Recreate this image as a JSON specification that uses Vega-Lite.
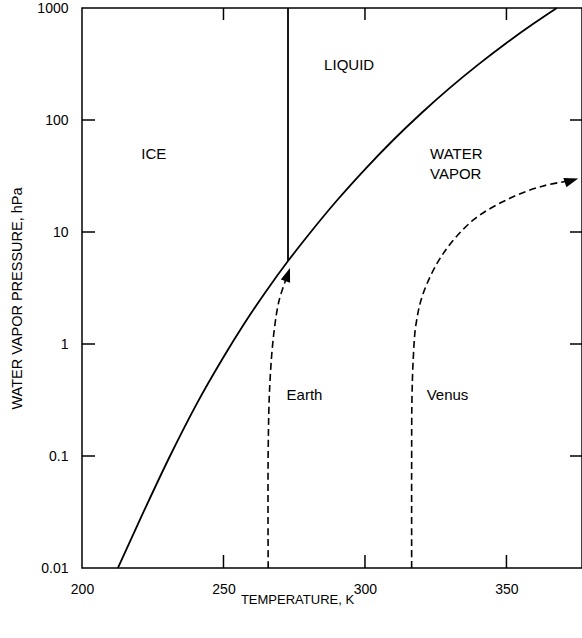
{
  "$schema": "https://vega.github.io/schema/vega-lite/v6.json",
  "width": 500,
  "height": 560,
  "autosize": {"type": "none"},
  "padding": {"left": 82, "top": 8, "right": 0, "bottom": 70},
  "background": "white",
  "config": {
    "view": {"stroke": "black", "strokeWidth": 1.5},
    "font": "Liberation Sans",
    "axis": {
      "domain": false,
      "ticks": false,
      "grid": false,
      "labelColor": "black",
      "titleColor": "black",
      "labelFont": "Liberation Sans",
      "titleFont": "Liberation Sans",
      "labelFontSize": 14,
      "labelFlush": false,
      "labelOverlap": false,
      "labelPadding": 14,
      "titleFontWeight": "normal"
    }
  },
  "datasets": {
    "lines": [
      {"i": 0, "T": 212.7, "p": 0.01},
      {"i": 1, "T": 221.9, "p": 0.0323},
      {"i": 2, "T": 231.1, "p": 0.1},
      {"i": 3, "T": 240.3, "p": 0.285},
      {"i": 4, "T": 249.5, "p": 0.727},
      {"i": 5, "T": 257.2, "p": 1.5},
      {"i": 6, "T": 265.0, "p": 2.94},
      {"i": 7, "T": 272.8, "p": 5.5},
      {"i": 8, "T": 280, "p": 9.4},
      {"i": 9, "T": 290, "p": 19.0},
      {"i": 10, "T": 300, "p": 36.3},
      {"i": 11, "T": 310, "p": 66.3},
      {"i": 12, "T": 320, "p": 115.5},
      {"i": 13, "T": 330, "p": 193.5},
      {"i": 14, "T": 340, "p": 312},
      {"i": 15, "T": 350, "p": 487},
      {"i": 16, "T": 360, "p": 737},
      {"i": 17, "T": 367.8, "p": 1000}
    ],
    "paths": [
      {"series": "Earth", "i": 0, "T": 265.8, "p": 0.01},
      {"series": "Earth", "i": 1, "T": 265.8, "p": 0.113},
      {"series": "Earth", "i": 2, "T": 266.4, "p": 0.449},
      {"series": "Earth", "i": 3, "T": 267.8, "p": 1.25},
      {"series": "Earth", "i": 4, "T": 269.7, "p": 2.47},
      {"series": "Earth", "i": 5, "T": 272.7, "p": 4.17},
      {"series": "Venus", "i": 0, "T": 316.5, "p": 0.01},
      {"series": "Venus", "i": 1, "T": 316.5, "p": 0.096},
      {"series": "Venus", "i": 2, "T": 316.6, "p": 0.316},
      {"series": "Venus", "i": 3, "T": 317.1, "p": 0.77},
      {"series": "Venus", "i": 4, "T": 318.0, "p": 1.48},
      {"series": "Venus", "i": 5, "T": 320.6, "p": 2.84},
      {"series": "Venus", "i": 6, "T": 327.7, "p": 6.45},
      {"series": "Venus", "i": 7, "T": 338.3, "p": 12.8},
      {"series": "Venus", "i": 8, "T": 351.2, "p": 20.0},
      {"series": "Venus", "i": 9, "T": 363.0, "p": 25.8},
      {"series": "Venus", "i": 10, "T": 373.0, "p": 28.8}
    ],
    "heads": [
      {"series": "Earth", "T": 272.7, "p": 4.17},
      {"series": "Venus", "T": 373.0, "p": 28.8}
    ],
    "centerText": [
      {"label": "ICE", "T": 225.4, "p": 49.2},
      {"label": "LIQUID", "T": 294.4, "p": 310}
    ],
    "leftText": [
      {"label": "WATER", "T": 323.0, "p": 49.2},
      {"label": "VAPOR", "T": 323.0, "p": 32.8},
      {"label": "Earth", "T": 272.3, "p": 0.347},
      {"label": "Venus", "T": 321.8, "p": 0.347}
    ],
    "melt": [
      {"T": 272.8, "p": 5.5},
      {"T": 272.8, "p": 1000}
    ],
    "ticks": [
      {"k": "b250", "T": 250, "p": 0.01}, {"k": "b250", "T": 250, "p": 0.01306},
      {"k": "b300", "T": 300, "p": 0.01}, {"k": "b300", "T": 300, "p": 0.01306},
      {"k": "b350", "T": 350, "p": 0.01}, {"k": "b350", "T": 350, "p": 0.01306},
      {"k": "t250", "T": 250, "p": 1000}, {"k": "t250", "T": 250, "p": 781.6},
      {"k": "t300", "T": 300, "p": 1000}, {"k": "t300", "T": 300, "p": 781.6},
      {"k": "t350", "T": 350, "p": 1000}, {"k": "t350", "T": 350, "p": 781.6},
      {"k": "l0.1", "T": 200, "p": 0.1}, {"k": "l0.1", "T": 204.6, "p": 0.1},
      {"k": "l1", "T": 200, "p": 1}, {"k": "l1", "T": 204.6, "p": 1},
      {"k": "l10", "T": 200, "p": 10}, {"k": "l10", "T": 204.6, "p": 10},
      {"k": "l100", "T": 200, "p": 100}, {"k": "l100", "T": 204.6, "p": 100},
      {"k": "r0.1", "T": 376.7, "p": 0.1}, {"k": "r0.1", "T": 372.46, "p": 0.1},
      {"k": "r1", "T": 376.7, "p": 1}, {"k": "r1", "T": 372.46, "p": 1},
      {"k": "r10", "T": 376.7, "p": 10}, {"k": "r10", "T": 372.46, "p": 10},
      {"k": "r100", "T": 376.7, "p": 100}, {"k": "r100", "T": 372.46, "p": 100}
    ]
  },
  "encoding": {
    "x": {
      "field": "T",
      "type": "quantitative",
      "scale": {"domain": [200, 376.7], "nice": false, "zero": false},
      "axis": {
        "orient": "bottom",
        "values": [200, 250, 300, 350],
        "title": "TEMPERATURE, K",
        "titleFontSize": 13,
        "titleX": 215,
        "titleY": 25,
        "titleBaseline": "top"
      }
    },
    "y": {
      "field": "p",
      "type": "quantitative",
      "scale": {"type": "log", "domain": [0.01, 1000], "nice": false},
      "axis": {
        "orient": "left",
        "values": [0.01, 0.1, 1, 10, 100, 1000],
        "format": "~g",
        "title": "WATER VAPOR PRESSURE, hPa",
        "titleFontSize": 14.5,
        "titleX": -65,
        "titleY": 290,
        "titleBaseline": "middle"
      }
    }
  },
  "layer": [
    {
      "data": {"name": "ticks"},
      "mark": {"type": "line", "color": "black", "strokeWidth": 1.5},
      "encoding": {"detail": {"field": "k", "type": "nominal"}}
    },
    {
      "data": {"name": "lines"},
      "mark": {"type": "line", "color": "black", "strokeWidth": 1.8, "interpolate": "monotone"},
      "encoding": {"order": {"field": "i", "type": "quantitative"}}
    },
    {
      "data": {"name": "melt"},
      "mark": {"type": "line", "color": "black", "strokeWidth": 1.8},
      "encoding": {}
    },
    {
      "data": {"name": "paths"},
      "mark": {"type": "line", "color": "black", "strokeWidth": 1.6, "strokeDash": [7, 4], "interpolate": "catmull-rom"},
      "encoding": {
        "detail": {"field": "series", "type": "nominal"},
        "order": {"field": "i", "type": "quantitative"}
      }
    },
    {
      "data": {"name": "heads"},
      "transform": [{"filter": "datum.series === 'Earth'"}],
      "mark": {"type": "point", "shape": "M0,-1L0.7,1L-0.7,1Z", "size": 196, "filled": true, "color": "black", "opacity": 1, "angle": 19}
    },
    {
      "data": {"name": "heads"},
      "transform": [{"filter": "datum.series === 'Venus'"}],
      "mark": {"type": "point", "shape": "M0,-1L0.7,1L-0.7,1Z", "size": 196, "filled": true, "color": "black", "opacity": 1, "angle": 72}
    },
    {
      "data": {"name": "leftText"},
      "mark": {"type": "text", "fontSize": 15, "font": "Liberation Sans", "align": "left", "baseline": "middle", "color": "black"},
      "encoding": {"text": {"field": "label"}}
    },
    {
      "data": {"name": "centerText"},
      "mark": {"type": "text", "fontSize": 15, "font": "Liberation Sans", "align": "center", "baseline": "middle", "color": "black"},
      "encoding": {"text": {"field": "label"}}
    }
  ]
}
